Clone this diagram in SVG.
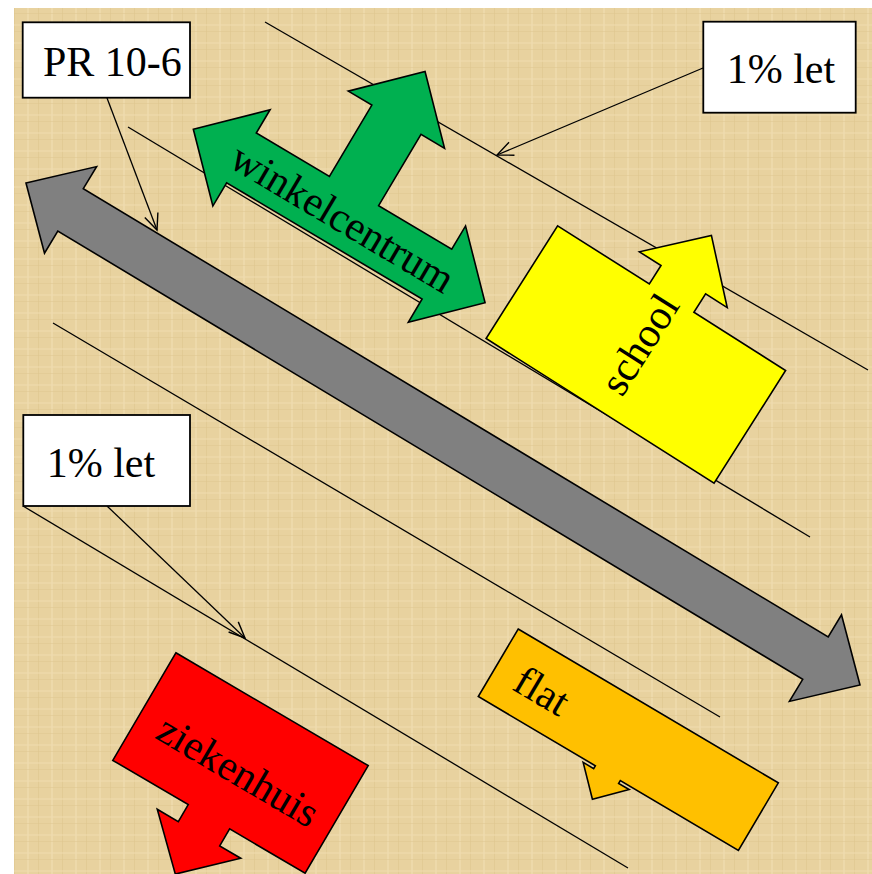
<svg xmlns="http://www.w3.org/2000/svg" width="872" height="874" viewBox="0 0 872 874">
  <defs>
    <pattern id="tex" width="24" height="18" patternUnits="userSpaceOnUse">
      <rect width="24" height="18" fill="#E8D29F"/>
      <rect x="3" width="2" height="18" fill="#F0DDB0" opacity="0.6"/>
      <rect x="14" width="1" height="18" fill="#DCC48C" opacity="0.5"/>
      <rect y="6" width="24" height="2" fill="#F0DCB0" opacity="0.5"/>
      <rect y="13" width="24" height="1" fill="#DDC590" opacity="0.5"/>
    </pattern>
    <marker id="open" markerUnits="userSpaceOnUse" markerWidth="22" markerHeight="20" refX="17" refY="8" orient="auto" overflow="visible">
      <path d="M1,1 L17,8 L1,15" fill="none" stroke="#000" stroke-width="1.4"/>
    </marker>
  </defs>
  <style>
    .shape { stroke: #000; stroke-width: 1.6; stroke-linejoin: miter; }
    .guide { stroke: #000; stroke-width: 1.3; fill: none; }
    .box { fill: #fff; stroke: #000; stroke-width: 1.8; }
    .lbl { font-family: "Liberation Serif", "Times New Roman", serif; font-size: 42px; fill: #000; }
  </style>
  <rect x="0" y="0" width="872" height="874" fill="#fff"/>
  <rect x="14" y="8" width="858" height="866" fill="url(#tex)"/>

  <g id="connectors">
    <line class="guide" x1="265" y1="22" x2="868" y2="370"/>
    <line class="guide" x1="128" y1="127" x2="810" y2="537"/>
    <line class="guide" x1="53" y1="323" x2="720" y2="717"/>
    <line class="guide" x1="23" y1="506" x2="628" y2="868"/>
    <line class="guide" x1="107" y1="98" x2="157" y2="230" marker-end="url(#open)"/>
    <line class="guide" x1="703" y1="68" x2="497" y2="155" marker-end="url(#open)"/>
    <line class="guide" x1="107" y1="506" x2="245" y2="638" marker-end="url(#open)"/>
  </g>

  <g id="gray-arrow" transform="translate(443,434) rotate(31.04)">
    <polygon class="shape" fill="#808080" points="-486.7,0 -434.7,-50.5 -434.7,-24.7 434.7,-24.7 434.7,-50.5 486.7,0 434.7,50.5 434.7,24.7 -434.7,24.7 -434.7,50.5"/>
  </g>

  <g id="winkelcentrum" transform="translate(339.2,216) rotate(30.73)">
    <polygon class="shape" fill="#00B050" points="-169.7,0 -113.7,-56 -113.7,-29 -28.6,-29 -28.6,-112 -56,-112 0,-168 56,-112 28.6,-112 28.6,-29 113.7,-29 113.7,-56 169.7,0 113.7,56 113.7,29 -113.7,29 -113.7,56"/>
    <text class="lbl" x="4" y="14" text-anchor="middle">winkelcentrum</text>
  </g>

  <g id="school" transform="translate(635.85,354.5) rotate(32.4)">
    <polygon class="shape" fill="#FFFF00" points="-135,-66.75 -26.4,-66.75 -26.4,-88.6 -52,-88.6 0,-141 52,-88.6 26.4,-88.6 26.4,-66.75 135,-66.75 135,66.75 -135,66.75"/>
    <text class="lbl" transform="translate(11.6,-10.7) rotate(-90)" text-anchor="middle">school</text>
  </g>

  <g id="ziekenhuis" transform="translate(240.5,763) rotate(30.4)">
    <polygon class="shape" fill="#FF0000" points="-111.5,-62.35 111.5,-62.35 111.5,62.35 24,62.35 24,82 48.4,82 0,128.8 -48.4,82 -24,82 -24,62.35 -111.5,62.35"/>
    <text class="lbl" x="2" y="22" text-anchor="middle">ziekenhuis</text>
  </g>

  <g id="flat" transform="translate(628.3,739.7) rotate(30.6)">
    <polygon class="shape" fill="#FFC000" points="-151.1,-39.2 151.1,-39.2 151.1,39.2 13.9,39.2 13.9,42.5 26.1,42.5 -0.6,69.5 -27.3,42.5 -15.1,42.5 -15.1,39.2 -151.1,39.2"/>
    <text class="lbl" x="-127" y="16">flat</text>
  </g>

  <g id="pr-box">
    <rect class="box" x="22.7" y="22.3" width="167.3" height="75.4"/>
    <text class="lbl" x="43" y="76">PR 10-6</text>
  </g>
  <g id="let-top">
    <rect class="box" x="703.3" y="21.7" width="152.4" height="91"/>
    <text class="lbl" x="726.7" y="83.3">1% let</text>
  </g>
  <g id="let-bottom">
    <rect class="box" x="23.3" y="415" width="166.7" height="91"/>
    <text class="lbl" x="46.7" y="476.7">1% let</text>
  </g>
</svg>
